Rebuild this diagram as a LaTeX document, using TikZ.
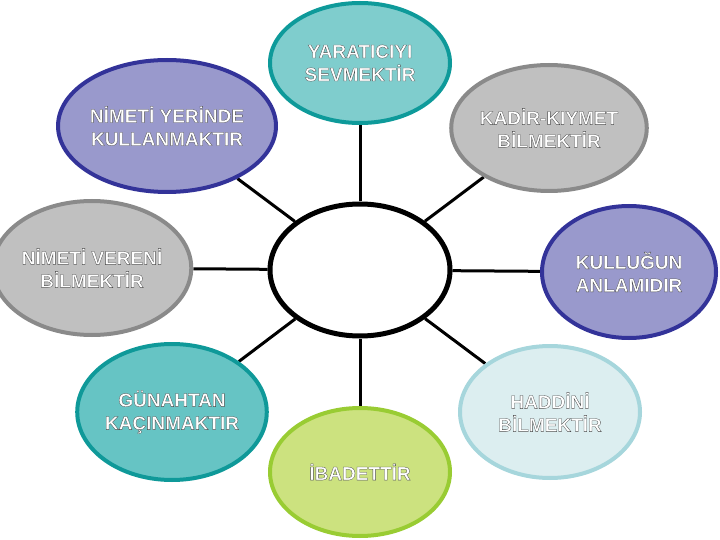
\documentclass[tikz,border=0pt]{standalone}
\usepackage{fontspec}
\setmainfont{Liberation Sans}
\newfontface\outface{Liberation Sans Bold}[FakeBold=1.6]
\usetikzlibrary{shapes.geometric,backgrounds}
\definecolor{tealfill}{HTML}{7FCDCD}
\definecolor{tealline}{HTML}{0E9A9A}
\definecolor{lavfill}{HTML}{9999CC}
\definecolor{lavline}{HTML}{333399}
\definecolor{grayfill}{HTML}{C0C0C0}
\definecolor{grayline}{HTML}{8A8A8A}
\definecolor{tealbfill}{HTML}{66C4C4}
\definecolor{tealbline}{HTML}{0F9999}
\definecolor{icefill}{HTML}{DCEEF0}
\definecolor{iceline}{HTML}{A6D6DC}
\definecolor{limefill}{HTML}{CCE27F}
\definecolor{limeline}{HTML}{99CC33}
\newcommand{\wo}{\special{pdf:bcolor [1] [0.3]}}
\newcommand{\we}{\special{pdf:ecolor}}
\tikzset{
  bubble/.style={ellipse, line width=4pt, inner sep=0pt, minimum width=180pt, minimum height=130pt,
    align=center, text=white, font=\outface\fontsize{19}{23}\selectfont},
  hub/.style={ellipse, draw=black, line width=5pt, fill=white, minimum width=180pt, minimum height=132pt},
  spoke/.style={draw=black, line width=3pt}
}
\begin{document}
\begin{tikzpicture}[x=1pt,y=-1pt]
\useasboundingbox (0,0) rectangle (720,540);
\node[hub] (c) at (360,270) {};
\node[bubble, fill=tealfill, draw=tealline, minimum height=120pt] (t) at (360,63) {\wo YARATICIYI\\SEVMEKTİR\we};
\node[bubble, fill=lavfill, draw=lavline, minimum width=172pt, minimum height=132pt] (tl) at (167,126) {\wo NİMETİ YERİNDE\\KULLANMAKTIR\we};
\node[bubble, fill=grayfill, draw=grayline, minimum width=178pt, minimum height=126pt] (tr) at (549,128) {\wo KADİR-KIYMET\\BİLMEKTİR\we};
\node[bubble, fill=grayfill, draw=grayline, minimum width=176pt, minimum height=134pt] (l) at (92,268) {\wo NİMETİ VERENİ\\BİLMEKTİR\we};
\node[bubble, fill=lavfill, draw=lavline, minimum width=174pt, minimum height=132pt] (r) at (629,272) {\wo KULLUĞUN\\ANLAMIDIR\we};
\node[bubble, fill=tealbfill, draw=tealbline, minimum width=180pt, minimum height=136pt] (bl) at (172,412) {\wo GÜNAHTAN\\KAÇINMAKTIR\we};
\node[bubble, fill=icefill, draw=iceline, minimum width=180pt, minimum height=132pt] (br) at (550,412) {\wo HADDİNİ\\BİLMEKTİR\we};
\node[bubble, fill=limefill, draw=limeline, minimum width=180pt, minimum height=128pt] (b) at (360,472) {\wo İBADETTİR\we};
\begin{pgfonlayer}{background}
\foreach \n in {t,tl,tr,l,r,bl,br,b} \draw[spoke] (c) -- (\n);
\end{pgfonlayer}
\end{tikzpicture}
\end{document}
